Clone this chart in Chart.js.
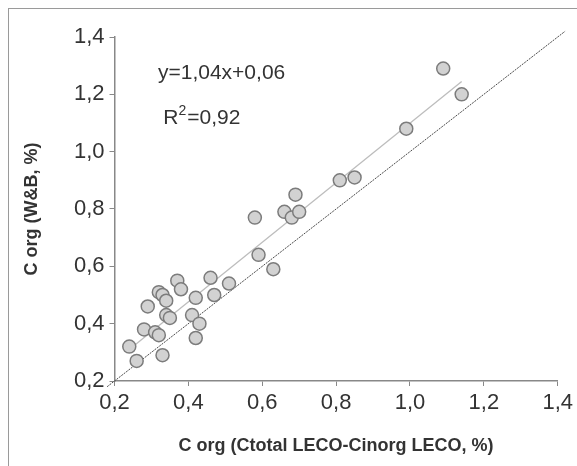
<!DOCTYPE html>
<html>
<head>
<meta charset="utf-8">
<script src="https://cdn.jsdelivr.net/npm/chart.js@4.4.1/dist/chart.umd.min.js"></script>
<style>
  html, body { margin: 0; padding: 0; background: #fff; }
  #wrap { position: relative; width: 577px; height: 466px; }
  #frame { position: absolute; left: 8px; top: 8px; right: -2px; bottom: -2px;
           border-top: 1.5px solid #9a9a9a; border-left: 1.5px solid #9a9a9a; pointer-events: none; }
</style>
</head>
<body>
<div id="wrap">
  <canvas id="myChart" width="577" height="466"></canvas>
  <div id="frame"></div>
</div>
<script>
// measured samples: C org by LECO difference (x) vs. W&B (y)
const xValues = [1.09, 1.14, 0.99, 0.81, 0.85, 0.69, 0.66, 0.68, 0.70, 0.58,
                 0.59, 0.63, 0.37, 0.38, 0.46, 0.51, 0.32, 0.33, 0.34, 0.29,
                 0.42, 0.47, 0.34, 0.35, 0.41, 0.43, 0.28, 0.31, 0.32, 0.42,
                 0.24, 0.26, 0.33];
const yValues = [1.29, 1.20, 1.08, 0.90, 0.91, 0.85, 0.79, 0.77, 0.79, 0.77,
                 0.64, 0.59, 0.55, 0.52, 0.56, 0.54, 0.51, 0.50, 0.48, 0.46,
                 0.49, 0.50, 0.43, 0.42, 0.43, 0.40, 0.38, 0.37, 0.36, 0.35,
                 0.32, 0.27, 0.29];

// regression line ends and 1:1 line
const fitX = [0.24, 1.14];
const fitY = [0.31, 1.245];
const oneToOne = [0.18, 1.42];

const tickValues = [0.2, 0.4, 0.6, 0.8, 1.0, 1.2, 1.4];
const equationText = 'y=1,04x+0,06';
const r2Value = '=0,92';

const FONT = '"Liberation Sans", Arial, sans-serif';
const fmt = v => v.toFixed(1).replace('.', ',');

const points = xValues.map((x, i) => ({ x: x, y: yValues[i] }));
const fitLine = fitX.map((x, i) => ({ x: x, y: fitY[i] }));
const idLine = oneToOne.map(v => ({ x: v, y: v }));

// equation + R² text in data coordinates
const notePlugin = {
    id: 'notes',
    afterDatasetsDraw(chart) {
        const c = chart.ctx;
        const xs = chart.scales.x, ys = chart.scales.y;
        c.save();
        c.fillStyle = '#333';
        c.textBaseline = 'middle';
        c.textAlign = 'center';
        c.font = '21px ' + FONT;
        c.fillText(equationText, xs.getPixelForValue(0.49), ys.getPixelForValue(1.273));
        // R² with raised small 2
        let px = xs.getPixelForValue(0.332);
        let py = ys.getPixelForValue(1.116);
        c.textAlign = 'left';
        c.fillText('R', px, py);
        px += c.measureText('R').width;
        c.font = '14px ' + FONT;
        c.fillText('2', px, py - 7);
        px += c.measureText('2').width + 1;
        c.font = '21px ' + FONT;
        c.fillText(r2Value, px, py);
        c.restore();
    }
};

const ctx = document.getElementById('myChart').getContext('2d');

var graphData = {
    type: 'scatter',
    data: {
        datasets: [{
            label: 'samples',
            data: points,
            pointRadius: 6.5,
            pointBackgroundColor: '#d2d2d2',
            pointBorderColor: '#7c7c7c',
            pointBorderWidth: 1.5,
            order: 0
        }, {
            label: 'fit',
            data: fitLine,
            showLine: true,
            pointRadius: 0,
            borderColor: '#bdbdbd',
            borderWidth: 1.3,
            order: 2
        }, {
            label: '1:1',
            data: idLine,
            showLine: true,
            pointRadius: 0,
            borderColor: '#4a4a4a',
            borderWidth: 1,
            borderDash: [2, 1],
            clip: false,
            order: 1
        }]
    },
    options: {
        responsive: false,
        animation: false,
        layout: { padding: { top: 37, right: 16, left: 0, bottom: 0 } },
        plugins: { legend: { display: false }, tooltip: { enabled: false } },
        scales: {
            x: {
                type: 'linear',
                min: 0.2, max: 1.4,
                afterBuildTicks: s => { s.ticks = tickValues.map(v => ({ value: v })); },
                afterFit: s => { s.height = 85; },
                grid: { drawOnChartArea: false, drawTicks: true, tickLength: 5, color: '#888' },
                border: { display: true, color: '#888', width: 1.5 },
                ticks: { color: '#333', font: { family: FONT, size: 22 }, padding: 4,
                         maxRotation: 0, callback: v => fmt(v) },
                title: { display: true, text: 'C org (Ctotal LECO-Cinorg LECO, %)', color: '#333',
                         font: { family: FONT, size: 18, weight: 'bold' }, padding: { top: 0, bottom: 9 } }
            },
            y: {
                type: 'linear',
                min: 0.2, max: 1.4,
                afterBuildTicks: s => { s.ticks = tickValues.map(v => ({ value: v })); },
                afterFit: s => { s.width = 114.5; },
                grid: { drawOnChartArea: false, drawTicks: true, tickLength: 5, color: '#888' },
                border: { display: true, color: '#888', width: 1.5 },
                ticks: { color: '#333', font: { family: FONT, size: 22 }, padding: 5,
                         callback: v => fmt(v) },
                title: { display: true, text: 'C org (W&B, %)', color: '#333',
                         font: { family: FONT, size: 18, weight: 'bold' }, padding: { top: 21, bottom: 0 } }
            }
        }
    },
    plugins: [notePlugin]
};

const myChart = new Chart(ctx, graphData);
</script>
</body>
</html>
